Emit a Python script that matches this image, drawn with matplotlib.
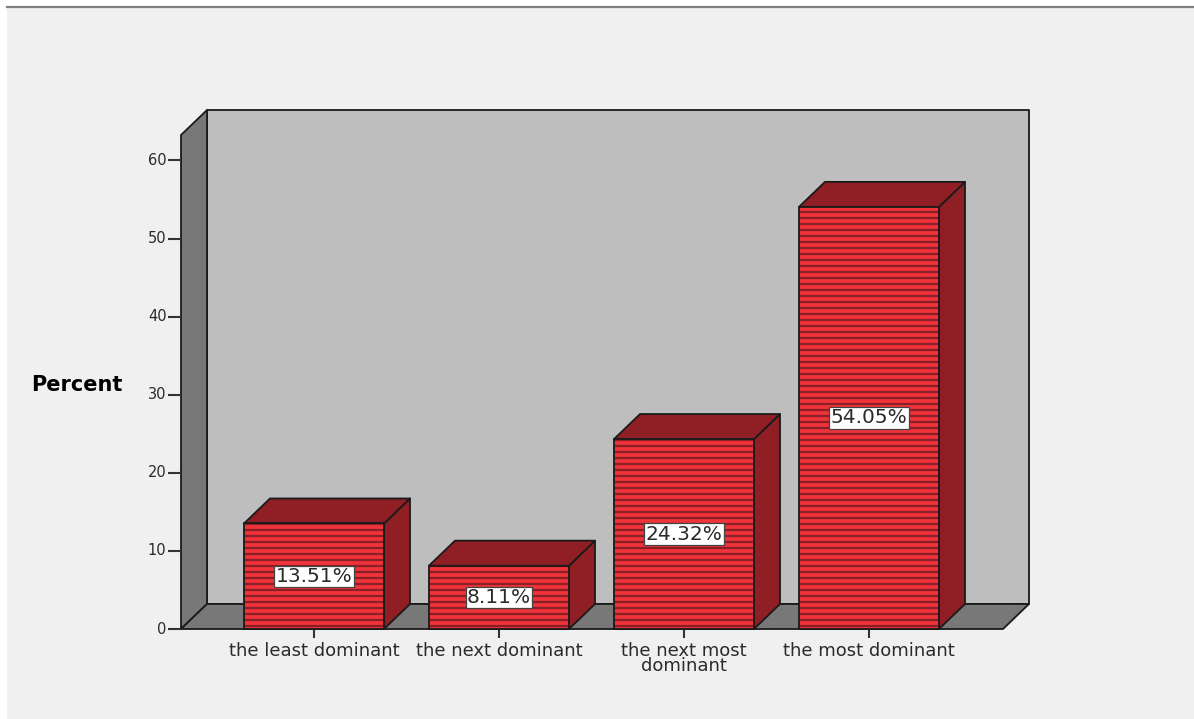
import matplotlib
matplotlib.use("Agg")
import matplotlib.pyplot as plt
import numpy as np
from matplotlib.patches import Polygon, Rectangle

categories = ["the least dominant", "the next dominant", "the next most\ndominant", "the most dominant"]
percents = [13.51, 8.11, 24.32, 54.05]
bar_labels = ["13.51%", "8.11%", "24.32%", "54.05%"]
y_ticks = [0, 10, 20, 30, 40, 50, 60]

W, H = 1194, 719
X0, XSTEP = 314, 185      # pixel of first category, pixels per category
Y0, YSTEP = 629, 7.81     # pixel of zero, pixels per percent
DX = 26 / XSTEP           # 3d depth in data units
DY = 25 / YSTEP
BAR = 140 / XSTEP
STRIPE = 6 / YSTEP

plt.rcParams["font.family"] = ["DejaVu Sans"]

fig = plt.figure(figsize=(W / 100, H / 100), dpi=100, facecolor="white")
ax = fig.add_axes([0, 0, 1, 1])
ax.set_xlim(-X0 / XSTEP, (W - X0) / XSTEP)
ax.set_ylim(-(H - Y0) / YSTEP, Y0 / YSTEP)
ax.axis("off")

def px(x, y):
    return (x - X0) / XSTEP, (Y0 - y) / YSTEP

# page background and rule on top
x1, y1 = px(7, 719)
x2, y2 = px(1194, 7)
ax.add_patch(Rectangle((x1, y1), x2 - x1, y2 - y1, fc="#f0f0f0", ec="none", zorder=0))
xa, ya = px(7, 6.5)
xb, _ = px(1194, 6.5)
ax.plot([xa, xb], [ya, ya], color="#808080", lw=1.6, zorder=1)

# chart box
left, _ = px(181, 0)
right, _ = px(1003, 0)
top = 63.25
edge = dict(ec="#1a1a1a", lw=1.3, joinstyle="round")
ax.add_patch(Polygon([(left + DX, DY), (right + DX, DY), (right + DX, top + DY), (left + DX, top + DY)],
                     fc="#bebebe", zorder=2, **edge))
ax.add_patch(Polygon([(left, 0), (left + DX, DY), (left + DX, top + DY), (left, top)],
                     fc="#787878", zorder=3, **edge))
ax.add_patch(Polygon([(left, 0), (right, 0), (right + DX, DY), (left + DX, DY)],
                     fc="#787878", zorder=3, **edge))

# y axis ticks
tick_w = 13 / XSTEP
for t in y_ticks:
    ax.plot([left - tick_w, left], [t, t], color="#333333", lw=1.5, zorder=3, solid_capstyle="butt")
    ax.text(left - tick_w - 1.5 / XSTEP, t, str(t), ha="right", va="center", fontsize=10.5, color="#2a2a2a")
ax.text(*px(77, 385), "Percent", ha="center", va="center", fontsize=15, fontweight="bold", color="black")

# bars
for i, (value, name, lab) in enumerate(zip(percents, categories, bar_labels)):
    l, r = i - BAR / 2, i + BAR / 2
    ax.add_patch(Polygon([(r, 0), (r + DX, DY), (r + DX, value + DY), (r, value)],
                         fc="#8f1f24", zorder=4, **edge))
    ax.add_patch(Polygon([(l, value), (r, value), (r + DX, value + DY), (l + DX, value + DY)],
                         fc="#8f1f24", zorder=4, **edge))
    ax.bar(i, value, width=BAR, color="#f0333b", zorder=5)
    ax.hlines(np.arange(STRIPE / 2, value, STRIPE), l, r, color="#8a1f25", lw=1.6, zorder=5.1)
    ax.bar(i, value, width=BAR, fill=False, edgecolor="#1a1a1a", linewidth=1.3, zorder=5.2)
    ax.text(i, value / 2, lab, ha="center", va="center", fontsize=14.5, color="#2a2a2a", zorder=6,
            bbox=dict(boxstyle="square,pad=0.06", fc="white", ec="#444444", lw=0.9))
    ax.plot([i, i], [0, -9 / YSTEP], color="#333333", lw=1.5, zorder=3, solid_capstyle="butt")
    ax.text(i, -13 / YSTEP, name, ha="center", va="top", fontsize=13, color="#2a2a2a", linespacing=0.8)

fig.savefig("out.png", dpi=100, facecolor=fig.get_facecolor())
